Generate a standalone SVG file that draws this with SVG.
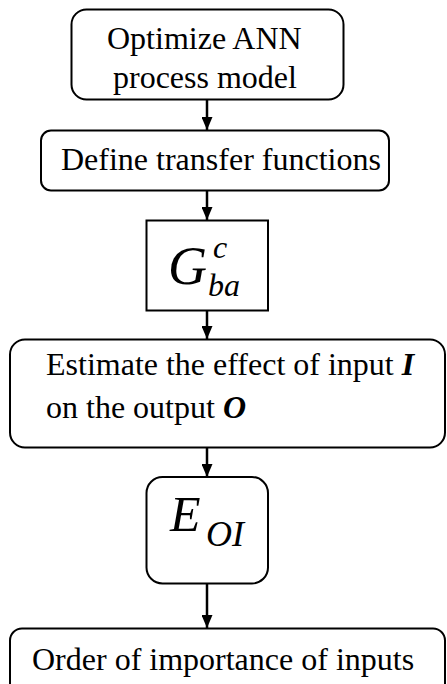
<svg xmlns="http://www.w3.org/2000/svg" width="447" height="684" viewBox="0 0 447 684">
<style>
.box{fill:#fff;stroke:#000;stroke-width:2}
.t{font-family:"Liberation Serif","Times New Roman",serif;font-size:32px;fill:#000}
.bi{font-weight:bold;font-style:italic}
.it{font-style:italic}
.big{font-size:54px}
.bigE{font-size:50px}
.sub{font-size:36px}
.edge{stroke:#000;stroke-width:2.5;fill:none;marker-end:url(#ah)}
</style>
<defs>
<marker id="ah" markerUnits="userSpaceOnUse" markerWidth="14" markerHeight="11" refX="13" refY="5.5" orient="auto">
<path d="M0,0 L13,5.5 L0,11 Z" fill="#000"/>
</marker>
</defs>
<rect width="447" height="684" fill="#fff"/>
<g id="edges">
<line class="edge" x1="207" y1="100" x2="207" y2="130"/>
<line class="edge" x1="207" y1="191" x2="207" y2="220"/>
<line class="edge" x1="207" y1="311" x2="207" y2="339"/>
<line class="edge" x1="207" y1="448" x2="207" y2="477"/>
<line class="edge" x1="207" y1="584" x2="207" y2="628"/>
</g>
<g id="n1">
<rect class="box" x="71.5" y="9.5" width="272" height="90" rx="15"/>
<text class="t" x="107" y="49">Optimize ANN</text>
<text class="t" x="113" y="88">process model</text>
</g>
<g id="n2">
<rect class="box" x="41" y="130.5" width="348" height="60" rx="10"/>
<text class="t" x="61" y="170">Define transfer functions</text>
</g>
<g id="n3">
<rect class="box" x="146.5" y="220.5" width="121.5" height="90"/>
<text class="t it big" x="168" y="284">G</text>
<text class="t it" x="213" y="258">c</text>
<text class="t it" x="208" y="296">ba</text>
</g>
<g id="n4">
<rect class="box" x="10" y="339.5" width="435" height="108" rx="15"/>
<text class="t" x="46" y="375">Estimate the effect of input <tspan class="bi">I</tspan></text>
<text class="t" x="46" y="418">on the output <tspan class="bi">O</tspan></text>
</g>
<g id="n5">
<rect class="box" x="146.5" y="477" width="121.5" height="106.5" rx="16"/>
<text class="t it bigE" x="170" y="531">E</text>
<text class="t it sub" x="206" y="546">OI</text>
</g>
<g id="n6">
<rect class="box" x="10" y="628.5" width="435" height="80" rx="12"/>
<text class="t" x="32" y="670">Order of importance of inputs</text>
</g>
</svg>
